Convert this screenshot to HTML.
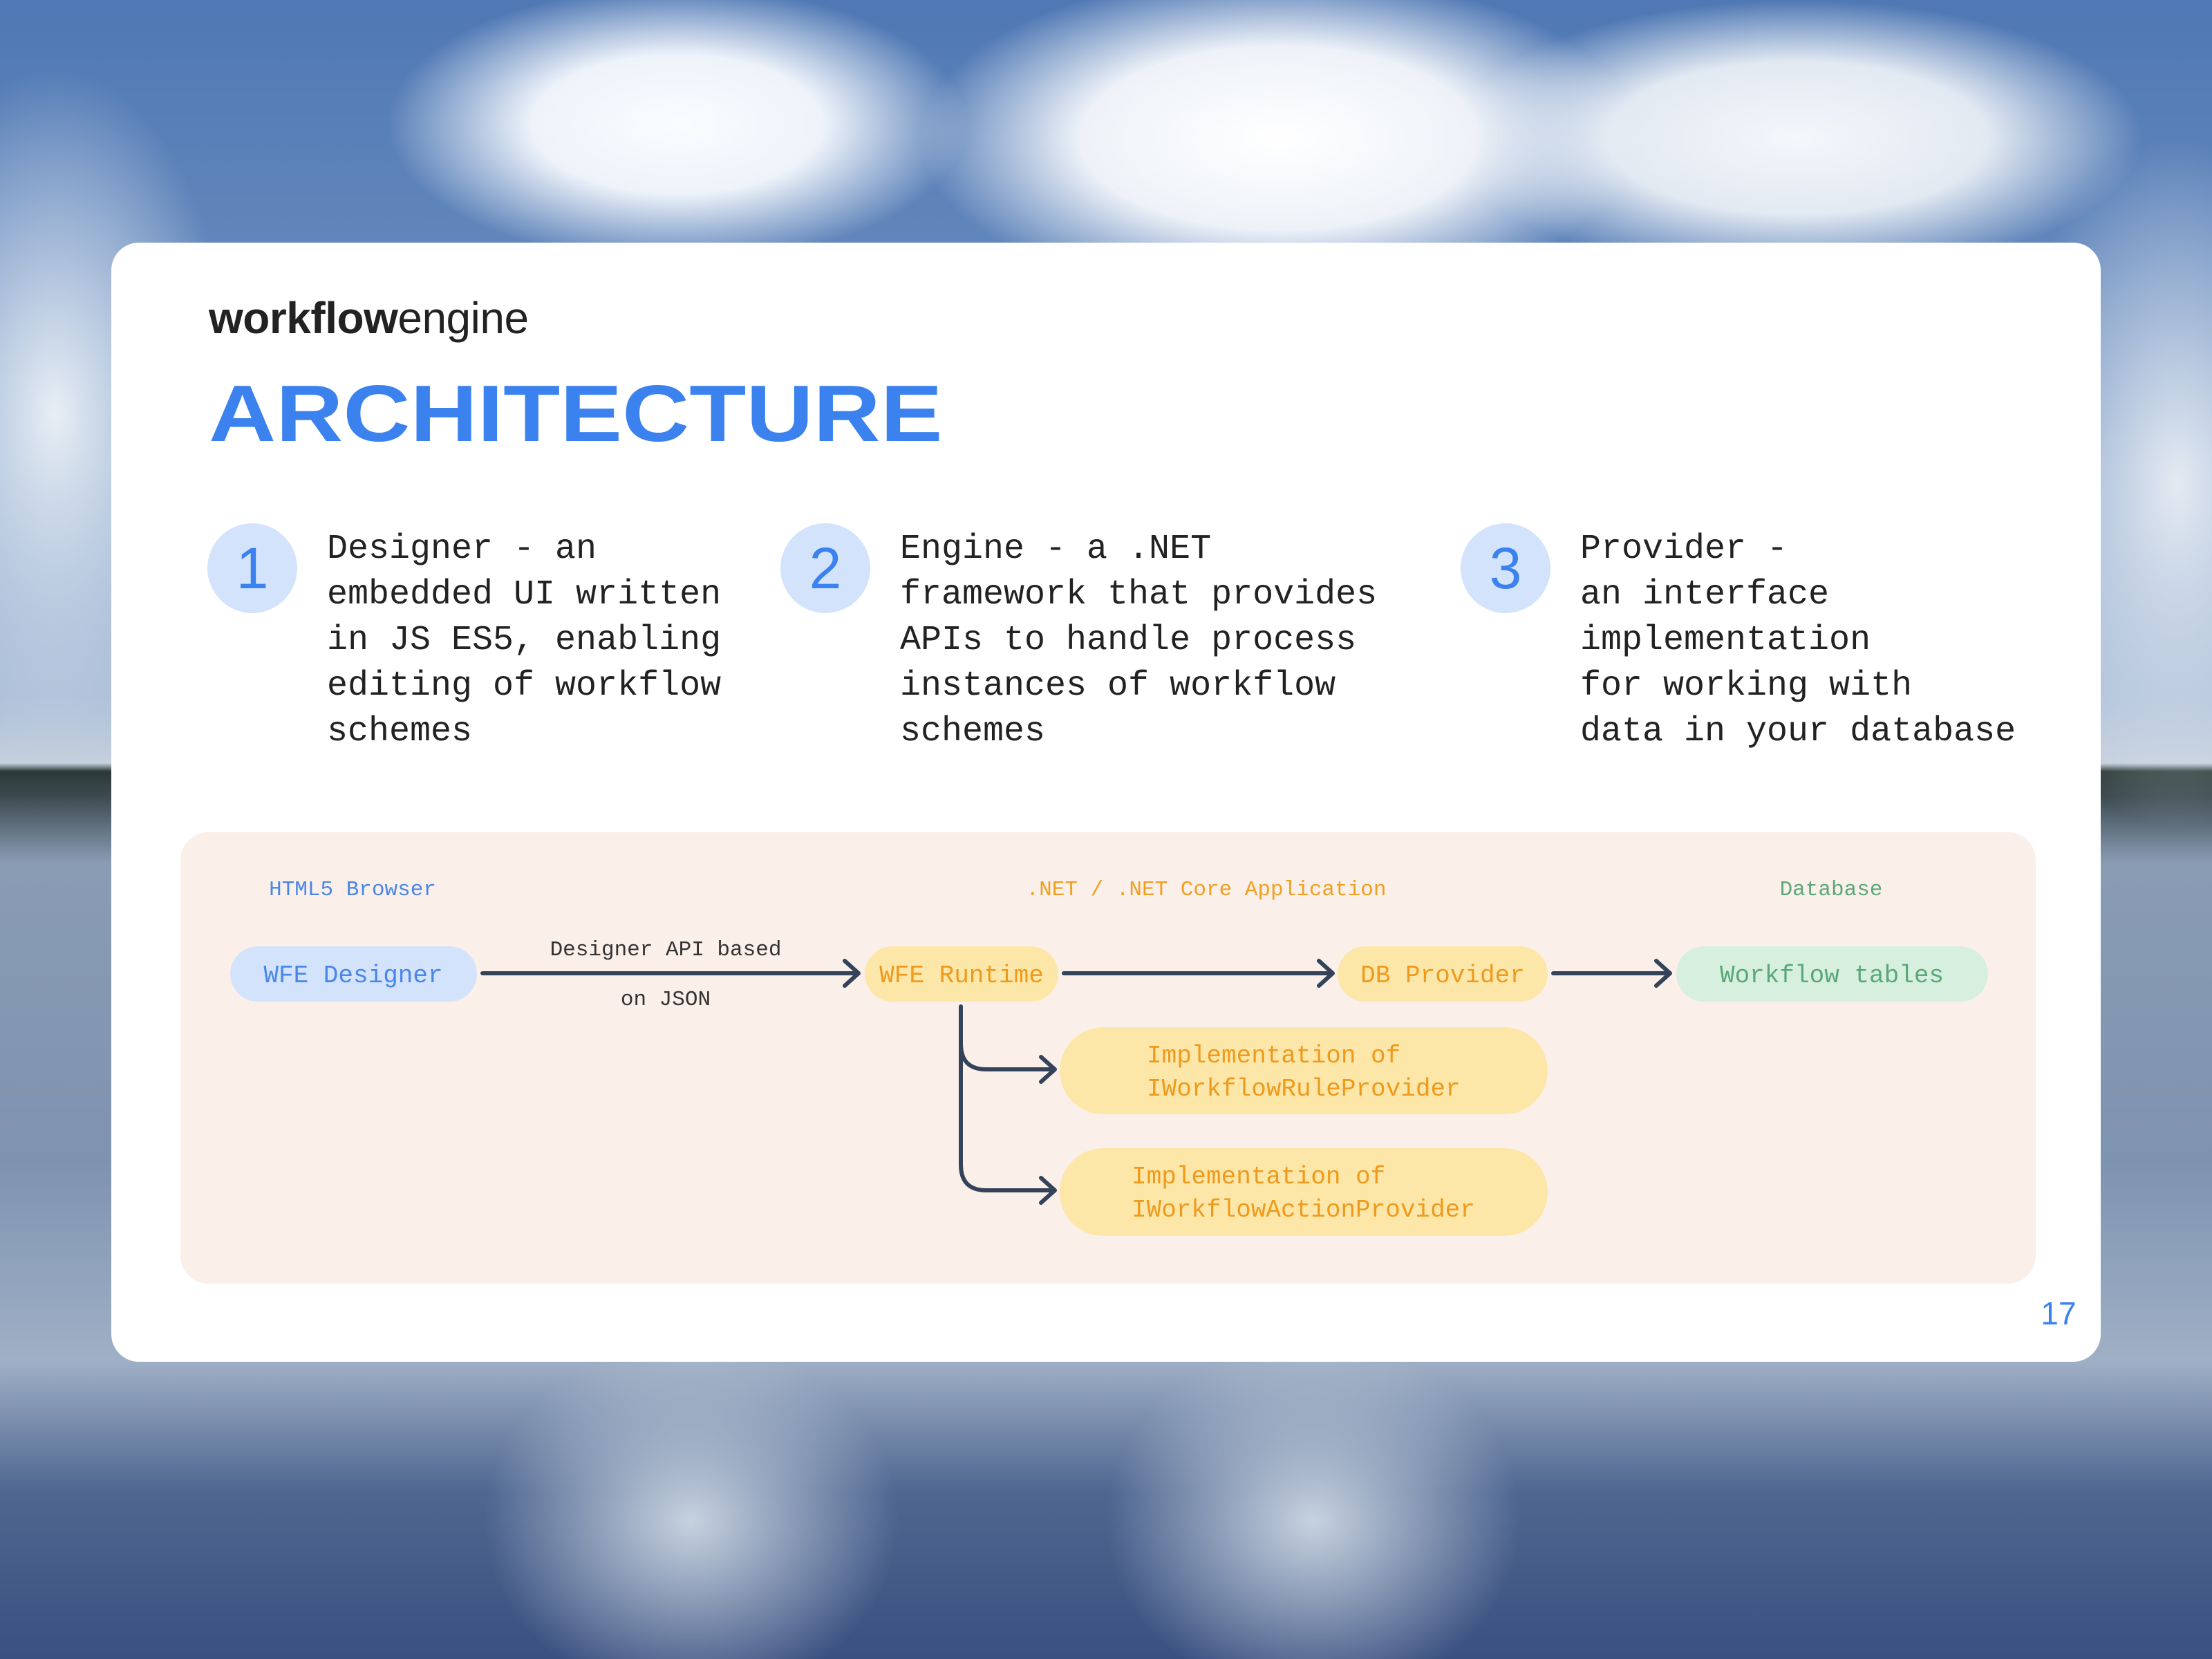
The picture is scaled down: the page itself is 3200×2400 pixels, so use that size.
<!DOCTYPE html>
<html><head><meta charset="utf-8">
<style>
html,body{margin:0;padding:0}
body{width:3200px;height:2400px;position:relative;overflow:hidden;
background:
radial-gradient(ellipse 420px 200px at 980px 180px,#fafcff 0%,#eef3fa 50%,rgba(230,238,248,0) 100%),
radial-gradient(ellipse 520px 240px at 1850px 200px,#ffffff 0%,#eef2f8 55%,rgba(230,238,248,0) 100%),
radial-gradient(ellipse 500px 200px at 2600px 200px,#f4f7fb 0%,#e2e9f2 55%,rgba(220,230,240,0) 100%),
radial-gradient(ellipse 260px 500px at 80px 600px,#e8eef5 0%,rgba(220,230,240,0) 100%),
radial-gradient(ellipse 260px 500px at 3150px 700px,#e4eaf2 0%,rgba(220,230,240,0) 100%),
radial-gradient(ellipse 300px 260px at 1000px 2200px,#c7d2df 0%,rgba(200,210,225,0) 100%),
radial-gradient(ellipse 300px 260px at 1900px 2200px,#c7d2df 0%,rgba(200,210,225,0) 100%),
linear-gradient(to bottom,#4f78b4 0%,#6e90c0 25%,#a7bbd6 42%,#c5d0dd 46%,#2b3a36 46.5%,#3c4a50 48%,#8a9cb4 52%,#7e93b0 70%,#9fb0c6 82%,#4e6690 90%,#3a5080 100%);}
.card{position:absolute;left:161px;top:351px;width:2878px;height:1619px;background:#fff;border-radius:40px}
.mono{font-family:"Liberation Mono",monospace}
.abs{position:absolute}
.brand{left:302px;top:423px;font-family:"Liberation Sans",sans-serif;font-size:64px;color:#222;letter-spacing:-0.5px}
.title{left:302px;top:540px;font-family:"Liberation Sans",sans-serif;font-weight:bold;font-size:116px;color:#3b82ef;transform-origin:0 0;transform:scaleX(1.16);line-height:1}
.circ{position:absolute;width:130px;height:130px;border-radius:50%;background:#d3e3fb;color:#3b82ef;font-family:"Liberation Sans",sans-serif;font-size:84px;text-align:center;line-height:130px}
.txt{position:absolute;top:762px;font-size:50px;line-height:66px;color:#222;white-space:pre}
.panel{position:absolute;left:261px;top:1204px;width:2684px;height:653px;background:#fbefea;border-radius:40px}
</style></head><body>
<div class="card"></div>
<div class="abs brand"><b>workflow</b>engine</div>
<div class="abs title">ARCHITECTURE</div>
<div class="circ" style="left:300px;top:757px">1</div>
<div class="circ" style="left:1129px;top:757px">2</div>
<div class="circ" style="left:2113px;top:757px">3</div>
<div class="txt mono" style="left:473px">Designer - an
embedded UI written
in JS ES5, enabling
editing of workflow
schemes</div>
<div class="txt mono" style="left:1302px">Engine - a .NET
framework that provides
APIs to handle process
instances of workflow
schemes</div>
<div class="txt mono" style="left:2286px">Provider -
an interface
implementation
for working with
data in your database</div>
<div class="panel"></div>
<svg class="abs" style="left:0;top:0" width="3200" height="2400" font-family="Liberation Mono, monospace">
<g font-size="31" text-anchor="middle">
<text x="510" y="1295" fill="#4a86e8">HTML5 Browser</text>
<text x="1745" y="1295" fill="#f0a020">.NET / .NET Core Application</text>
<text x="2649" y="1295" fill="#5aa878">Database</text>
</g>
<rect x="333" y="1369" width="357" height="80" rx="40" fill="#d3e3fb"/>
<rect x="1251" y="1369" width="280" height="80" rx="40" fill="#fde7a8"/>
<rect x="1935" y="1369" width="304" height="80" rx="40" fill="#fde7a8"/>
<rect x="2425" y="1369" width="451" height="80" rx="40" fill="#d6efdf"/>
<rect x="1533" y="1486" width="706" height="126" rx="63" fill="#fde7a8"/>
<rect x="1533" y="1661" width="706" height="127" rx="63" fill="#fde7a8"/>
<g font-size="36" text-anchor="middle">
<text x="511" y="1421" fill="#4a86e8">WFE Designer</text>
<text x="1391" y="1421" fill="#ee9a1c">WFE Runtime</text>
<text x="2087" y="1421" fill="#ee9a1c">DB Provider</text>
<text x="2650" y="1421" fill="#5aa878">Workflow tables</text>
</g>
<g font-size="36" fill="#ee9a1c">
<text x="1659" y="1537">Implementation of</text>
<text x="1659" y="1585">IWorkflowRuleProvider</text>
<text x="1637" y="1712">Implementation of</text>
<text x="1637" y="1760">IWorkflowActionProvider</text>
</g>
<g font-size="31" fill="#333" text-anchor="middle">
<text x="963" y="1382">Designer API based</text>
<text x="963" y="1454">on JSON</text>
</g>
<g stroke="#34435a" stroke-width="6" fill="none" stroke-linecap="round" stroke-linejoin="round">
<path d="M698 1408H1240M1222 1390l20 18-20 18"/>
<path d="M1539 1408H1926M1908 1390l20 18-20 18"/>
<path d="M2247 1408H2414M2396 1390l20 18-20 18"/>
<path d="M1390 1456V1510q0 37 37 37H1524M1506 1529l20 18-20 18"/>
<path d="M1390 1510V1685q0 37 37 37H1524M1506 1704l20 18-20 18"/>
</g>
<text x="2978" y="1916" font-family="Liberation Sans, sans-serif" font-size="46" fill="#3b82ef" text-anchor="middle">17</text>
</svg>
</body></html>
